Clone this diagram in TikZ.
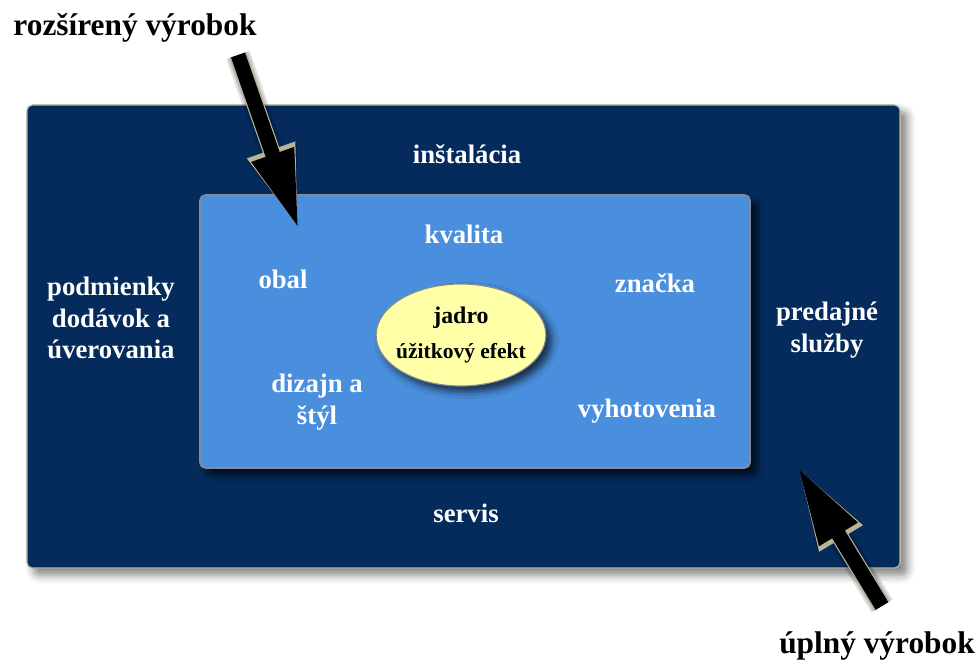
\documentclass[tikz,border=0pt]{standalone}
\usepackage{fontspec}
\setmainfont{Liberation Serif}
\usetikzlibrary{arrows.meta,positioning,shadows.blur,shapes.geometric}
\definecolor{Navy}{HTML}{042B5C}
\definecolor{Azure}{HTML}{4A8FDD}
\definecolor{Cream}{HTML}{FFFFA8}
\definecolor{Rim}{HTML}{B9B497}
\definecolor{Steel}{HTML}{858C8F}
\tikzset{
  outerbox/.style={rectangle, rounded corners=4pt, draw=Rim, line width=0.9pt, fill=Navy, blur shadow={shadow xshift=5pt, shadow yshift=-5pt, shadow blur radius=6pt, shadow opacity=50}},
  innerbox/.style={rectangle, rounded corners=4pt, draw=Steel, line width=1.2pt, fill=Azure, blur shadow={shadow xshift=5pt, shadow yshift=-5pt, shadow blur radius=5pt, shadow opacity=70}},
  core/.style={ellipse, draw=Steel, line width=0.8pt, fill=Cream, inner xsep=-0.12cm, inner ysep=0pt, align=center, blur shadow={shadow xshift=4pt, shadow yshift=-4pt, shadow blur radius=5pt, shadow opacity=70}},
  lbl/.style={text=white, font=\fontsize{19}{22.4}\selectfont\bfseries, align=center, inner sep=0pt},
  title/.style={text=black, font=\fontsize{22.3}{25}\selectfont\bfseries, inner sep=0pt},
  blockarrow/.style={line width=0.37cm, draw=black, -{Triangle[length=2cm, width=1.02cm]}},
  rimarrow/.style={line width=0.43cm, draw=Rim, -{Triangle[length=2.12cm, width=1.14cm]}},
  arrowshade/.style={draw=black, opacity=0.12, -{Triangle[length=2.1cm, width=1.15cm]}}
}
\begin{document}
\begin{tikzpicture}[x=0.025cm, y=-0.025cm]
\useasboundingbox (0,0) rectangle (980,664);
\node[outerbox, minimum width=21.825cm, minimum height=11.575cm] (uplny) at (463.5,336.5) {};
\node[innerbox, minimum width=13.75cm, minimum height=6.825cm] (rozsireny) at (475,331.5) {};
\node[core, minimum width=4.1cm, minimum height=2.55cm, font=\bfseries] (jadro) at (461,335)
  {\fontsize{17}{18}\selectfont jadro\\[9pt]\fontsize{15.3}{18}\selectfont úžitkový efekt};
\node[lbl, anchor=base] (instalacia) at (467,163) {inštalácia};
\node[lbl, anchor=base] (kvalita) at (464,243) {kvalita};
\node[lbl, anchor=base] (obal) at (283,288) {obal};
\node[lbl, anchor=base] (znacka) at (655,292) {značka};
\node[lbl] (podmienky) at (111,318) {podmienky\\dodávok a\\úverovania};
\node[lbl] (predajne) at (827,330) {predajné\\služby};
\node[lbl] (dizajn) at (317,402) {dizajn a\\štýl};
\node[lbl, anchor=base] (vyhotovenia) at (647,417) {vyhotovenia};
\node[lbl, anchor=base] (servis) at (466,522) {servis};
\node[title, anchor=base] (rozsirenyLbl) at (135,35) {rozšírený výrobok};
\node[title, anchor=base] (uplnyLbl) at (877,653) {úplný výrobok};
\coordinate (tail1) at (238,55);
\coordinate (tip1) at (299,230);
\coordinate (tail2) at (882,606);
\coordinate (tip2) at (797,466);
\foreach \w in {0.62,0.52,0.44}{
  \draw[arrowshade, line width=\w cm, shift={(8,8)}] (tail1) -- (tip1);
  \draw[arrowshade, line width=\w cm, shift={(8,8)}] (tail2) -- (tip2);
}
\draw[rimarrow] (tail1) -- (tip1);
\draw[blockarrow] (tail1) -- (tip1);
\draw[rimarrow] (tail2) -- (tip2);
\draw[blockarrow] (tail2) -- (tip2);
\end{tikzpicture}
\end{document}
